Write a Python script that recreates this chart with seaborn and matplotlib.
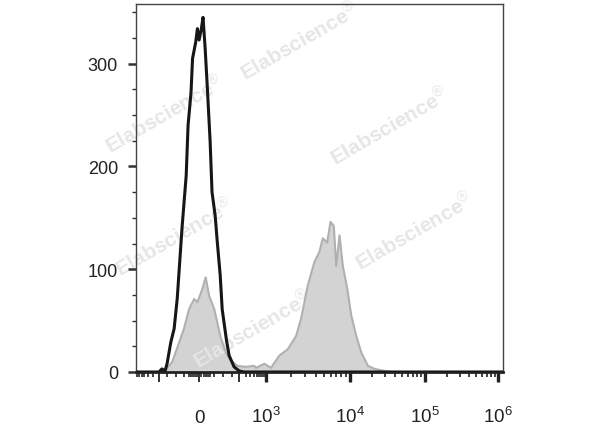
import numpy as np
import seaborn as sns
import matplotlib
matplotlib.use("Agg")
import matplotlib.pyplot as plt
from matplotlib.ticker import FixedLocator, FixedFormatter, MultipleLocator

# Histogram data (fluorescence intensity -> count)
black_x = [-750, -276, -174, -100, -90, -80, -74, -63, -54, -46, -41, -34, -25, -21,
           -15, -12, -6, -3, 0, 4, 7, 11, 15, 21, 25, 32, 37, 44, 49, 60, 68, 83,
           100, 174, 276, 1.2e6]
black_y = [0, 0, 0, 0, 3, 1, 8, 29, 42, 71, 100, 142, 191, 240,
           272, 305, 321, 334, 323, 334, 345, 315, 279, 224, 175, 152, 126, 94, 61, 32, 16, 5,
           1, 0, 0, 0]

gray_x = [-750, -100, -83, -59, -41, -30, -19, -9, -3, 6, 12, 19, 30, 37, 46, 59, 73, 94,
          205, 416, 474, 870, 1147, 1457, 1844, 2332, 2680, 3215, 3863, 4433, 4850,
          5467, 5980, 6540, 6980, 7630, 8350, 9400, 10540, 12300, 14340, 17570,
          21590, 29350, 36390, 1.2e6]
gray_y = [0, 0, 0, 10, 29, 42, 61, 71, 68, 81, 92, 74, 61, 48, 32, 19, 11, 6,
          5, 6, 4, 8, 4, 16, 22, 35, 52, 84, 107, 117, 130,
          126, 146, 142, 103, 133, 103, 81, 55, 35, 19, 6,
          3, 1, 0, 0]

tick_major = [-100, 0, 100, 1e3, 1e4, 1e5, 1e6]
tick_labels = ["", "0", "", "$10^3$", "$10^4$", "$10^5$", "$10^6$"]
tick_minor = ([-20, -16, -12, -8, -4, 4, 8, 12, 16, 20, -30, -50, -75, 30, 50, 75]
              + [s * m * 100 for s in (-1, 1) for m in range(2, 10)]
              + [m * 10 ** e for e in (3, 4, 5) for m in range(2, 10)])

watermarks = [(300, 42), (165, 115), (390, 127), (175, 238), (415, 232), (253, 330)]

# biexponential-like axis (log above ~1e3, near linear around 0)
S_ANCHOR = [-3.0, -2.0043, -1.0414, -0.301, 0, 0.301, 1.0414, 2.0043, 3.0004, 4.0, 5.0]
P_ANCHOR = [-25, 50, 133, 160, 200, 240, 267, 350, 425, 498, 571]


def fwd(x):
    x = np.asarray(x, dtype=float)
    s = np.sign(x) * np.log10(1 + np.abs(x) / 100)
    return np.interp(s, S_ANCHOR, P_ANCHOR)


def inv(p):
    s = np.interp(np.asarray(p, dtype=float), P_ANCHOR, S_ANCHOR)
    return np.sign(s) * 100 * (10 ** np.abs(s) - 1)


sns.set_style("ticks")
plt.rcParams["font.family"] = ["Liberation Sans", "DejaVu Sans"]
plt.rcParams["mathtext.fontset"] = "custom"
plt.rcParams["mathtext.rm"] = "Liberation Sans"
plt.rcParams["mathtext.it"] = "Liberation Sans:italic"
plt.rcParams["mathtext.bf"] = "Liberation Sans:bold"

fig = plt.figure(figsize=(6, 4.27), dpi=100)
ax = fig.add_axes([136 / 600, 1 - 373 / 427, 367 / 600, 368 / 427])
ax.set_xscale("function", functions=(fwd, inv))

ax.fill_between(gray_x, gray_y, color="#d3d3d3", lw=0, zorder=1)
sns.lineplot(x=gray_x, y=gray_y, ax=ax, color="#b0b0b0", lw=1.5, zorder=2)
sns.lineplot(x=black_x, y=black_y, ax=ax, color="#161616", lw=2.2, zorder=4)

ax.set_xlim(-750, 1.17e6)
ax.set_ylim(0, 358)
ax.set_xlabel("")
ax.set_ylabel("")

# y axis ticks
ax.yaxis.set_major_locator(MultipleLocator(100))
ax.yaxis.set_minor_locator(MultipleLocator(25))
ax.tick_params(axis="y", which="major", length=6, width=1.8, pad=7,
               labelsize=13, labelcolor="#222222", color="#333333")
ax.tick_params(axis="y", which="minor", length=3, width=1.0, color="#333333")

# x axis ticks
ax.xaxis.set_major_locator(FixedLocator(tick_major))
ax.xaxis.set_major_formatter(FixedFormatter(tick_labels))
ax.xaxis.set_minor_locator(FixedLocator(tick_minor))
ax.tick_params(axis="x", which="major", length=7, width=2.4, pad=29,
               labelsize=13.5, labelcolor="#222222", color="#222222")
ax.tick_params(axis="x", which="minor", length=3.5, width=1.2, color="#222222")
for val, t in zip(tick_major, ax.xaxis.get_major_ticks()):
    t.label1.set_verticalalignment("baseline")
    if abs(val) <= 100:
        t.tick1line.set_markeredgewidth(1.3)

for side in ["top", "right", "left"]:
    ax.spines[side].set_linewidth(1.0)
    ax.spines[side].set_color("#444444")
ax.spines["bottom"].set_linewidth(2.0)
ax.spines["bottom"].set_color("#222222")
# tick labels drawn above the watermark
ax.xaxis.set_zorder(5)
ax.yaxis.set_zorder(5)

# faint watermark text, kept under the tick labels and curves
for px, py in watermarks:
    ax.text(px / 600, 1 - py / 427, "Elabscience$^{®}$", transform=fig.transFigure,
            rotation=30, ha="center", va="center", fontsize=15, fontweight="bold",
            color="#e6e6e6", zorder=1.5, clip_on=False)

fig.savefig("out.png", dpi=100)
